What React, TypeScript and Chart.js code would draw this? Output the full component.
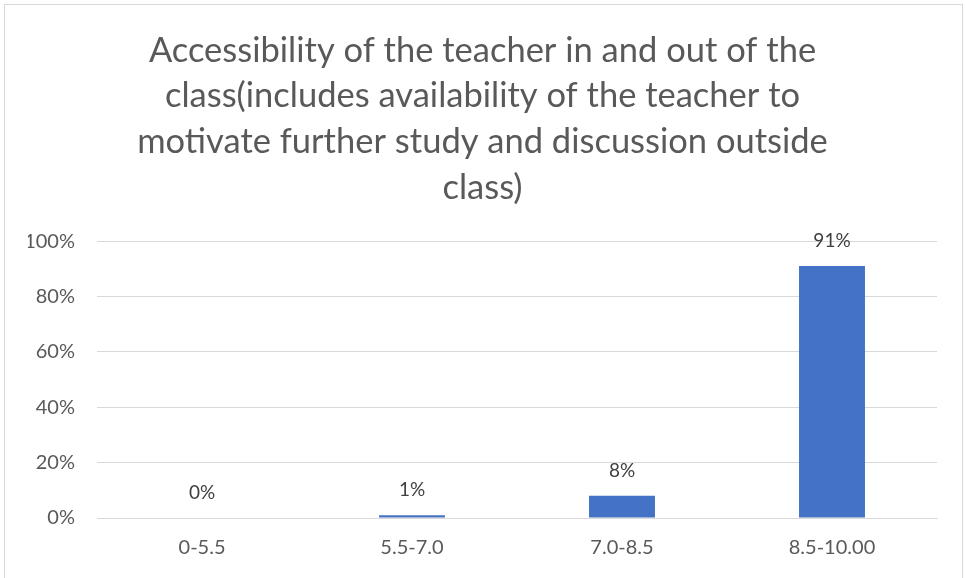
import React, { useEffect, useRef } from "react";
import { Chart, registerables } from "chart.js";

Chart.register(...registerables);

const titleLines = [
  "Accessibility of the teacher in and out of the",
  "class(includes availability of the teacher to",
  "motivate further study and discussion outside",
  "class)",
];
const categories = ["0-5.5", "5.5-7.0", "7.0-8.5", "8.5-10.00"];
const values = [0, 1, 8, 91];
const valueLabels = ["0%", "1%", "8%", "91%"];
const yTicks = [0, 20, 40, 60, 80, 100];

const FONT = "Lato, 'Open Sans', sans-serif";

const borderPlugin = {
  id: "outerBorder",
  beforeDraw(chart: any) {
    const ctx = chart.ctx;
    ctx.save();
    ctx.fillStyle = "#ffffff";
    ctx.fillRect(0, 0, chart.width, chart.height);
    ctx.strokeStyle = "#d9d9d9";
    ctx.lineWidth = 1;
    ctx.strokeRect(4.5, 4.5, chart.width - 7, chart.height + 10);
    ctx.restore();
  },
};

const labelPlugin = {
  id: "barValueLabels",
  afterDatasetsDraw(chart: any) {
    const ctx = chart.ctx;
    const meta = chart.getDatasetMeta(0);
    ctx.save();
    ctx.font = `19px ${FONT}`;
    ctx.fillStyle = "#404040";
    ctx.textAlign = "center";
    ctx.textBaseline = "middle";
    meta.data.forEach((el: any, i: number) => {
      ctx.fillText(valueLabels[i], el.x, el.y - 25);
    });
    ctx.restore();
  },
};

export default function App() {
  const ref = useRef<HTMLCanvasElement>(null);
  useEffect(() => {
    document.body.style.margin = "0";
    const chart = new Chart(ref.current!, {
      type: "bar",
      data: {
        labels: categories,
        datasets: [
          {
            data: values,
            backgroundColor: "#4472C4",
            barPercentage: 0.314,
            categoryPercentage: 1,
          },
        ],
      },
      options: {
        animation: false,
        responsive: true,
        maintainAspectRatio: false,
        layout: { padding: { left: 28, right: 28, top: 4, bottom: 0 } },
        plugins: {
          legend: { display: false },
          tooltip: { enabled: false },
          title: {
            display: true,
            text: titleLines,
            color: "#595959",
            font: { family: FONT, size: 34.5, weight: "normal", lineHeight: 1.32 },
            padding: { top: 24, bottom: 31 },
          },
        },
        scales: {
          x: {
            grid: { display: false, drawTicks: false },
            border: { color: "#d9d9d9" },
            ticks: { color: "#595959", font: { family: FONT, size: 20 }, padding: 18 },
          },
          y: {
            min: 0,
            max: 100,
            afterFit(scale: any) {
              scale.width = 69;
            },
            afterBuildTicks(scale: any) {
              scale.ticks = yTicks.map((v) => ({ value: v }));
            },
            grid: { color: "#d9d9d9", drawTicks: false },
            border: { display: false },
            ticks: {
              color: "#595959",
              font: { family: FONT, size: 20 },
              padding: 22,
              callback: (v: any) => `${v}%`,
            },
          },
        },
      },
      plugins: [borderPlugin, labelPlugin],
    });
    return () => chart.destroy();
  }, []);
  return (
    <div style={{ position: "relative", width: 965, height: 578 }}>
      <canvas ref={ref} />
    </div>
  );
}
